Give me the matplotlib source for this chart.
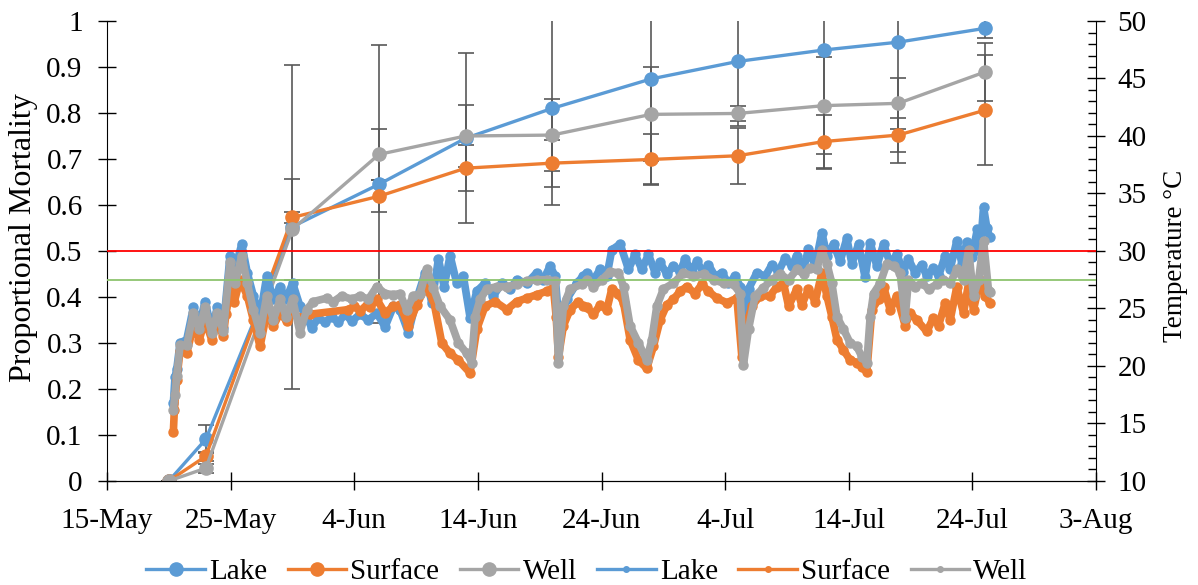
import matplotlib.pyplot as plt
from matplotlib.lines import Line2D
from matplotlib.ticker import MultipleLocator

plt.rcParams['font.family'] = ['Liberation Serif', 'DejaVu Serif']
plt.rcParams['font.size'] = 21

# x values are days after 15 May
tick_days = [0, 10, 20, 30, 40, 50, 60, 70, 80]
tick_labels = ['15-May', '25-May', '4-Jun', '14-Jun', '24-Jun', '4-Jul', '14-Jul', '24-Jul', '3-Aug']

# proportional mortality per sampling day
sample_day = [5, 8, 15, 22, 29, 36, 44, 51, 58, 64, 71]
lake_mort = [0, 0.091, 0.553, 0.645, 0.745, 0.810, 0.874, 0.912, 0.937, 0.954, 0.984]
surface_mort = [0, 0.054, 0.573, 0.619, 0.680, 0.691, 0.699, 0.707, 0.738, 0.752, 0.806]
well_mort = [0, 0.028, 0.547, 0.710, 0.750, 0.752, 0.797, 0.799, 0.816, 0.821, 0.889]
lake_err = [0, 0.031, 0.352, 0.302, 0.185, 0.211, 0.228, 0.140, 0.258, 0.263, 0.022]
surface_err = [0, 0.010, 0.012, 0.035, 0.050, 0.051, 0.056, 0.061, 0.058, 0.037, 0.120]
well_err = [0, 0.010, 0.109, 0.056, 0.067, 0.078, 0.102, 0.016, 0.105, 0.055, 0.063]

# water temperature logs
lake_day = [5.37, 5.50, 5.64, 5.91, 6.45, 6.99, 7.47, 7.93, 8.47, 8.93, 9.41, 9.95, 10.36, 10.90,
            11.35, 11.84, 12.38, 12.92, 13.46, 14.00, 14.48, 15.02, 15.61, 16.15, 16.56, 17.10,
            17.64, 18.18, 18.72, 19.26, 19.80, 20.47, 21.14, 21.82, 22.49, 23.17, 23.70, 24.38,
            25.05, 25.73, 26.27, 26.81, 27.27, 27.75, 28.29, 28.83, 29.37, 29.91, 30.58, 31.26,
            31.93, 32.61, 33.14, 33.95, 34.76, 35.30, 35.84, 36.25, 36.60, 37.19, 38.00, 38.50,
            38.81, 39.35, 39.89, 40.43, 40.83, 41.51, 42.18, 42.72, 43.26, 43.80, 44.34, 44.74,
            45.28, 45.82, 46.36, 46.76, 47.30, 47.71, 48.25, 48.65, 49.19, 49.73, 50.27, 50.81,
            51.22, 51.48, 51.89, 52.56, 53.24, 53.78, 54.31, 54.86, 55.39, 55.80, 56.34, 56.74,
            57.28, 57.82, 58.23, 58.77, 59.30, 59.84, 60.25, 60.79, 61.32, 61.73, 62.27, 62.81,
            63.35, 63.89, 64.42, 64.83, 65.37, 65.91, 66.31, 66.85, 67.26, 67.80, 68.20, 68.74,
            69.15, 69.55, 69.96, 70.40, 70.63, 70.90, 71.17, 71.40]
lake_temp = [16.8, 19.0, 19.7, 22.0, 22.3, 25.1, 23.5, 25.6, 23.2, 25.1, 23.3, 29.6, 28.4, 30.6,
             28.1, 26.1, 24.3, 27.8, 25.8, 26.9, 25.8, 27.2, 25.2, 24.3, 23.3, 24.2,
             23.8, 24.3, 23.8, 24.5, 23.9, 24.5, 24.0, 24.6, 23.4, 25.2, 24.9, 22.9,
             25.8, 28.1, 25.5, 29.3, 26.9, 29.6, 27.2, 27.8, 24.2, 26.5, 27.2, 26.1,
             27.2, 26.7, 27.5, 27.2, 28.1, 27.5, 28.7, 27.8, 23.2, 25.8, 27.2, 27.8,
             28.1, 27.5, 28.4, 27.8, 30.1, 30.6, 28.4, 29.7, 28.4, 29.7, 28.1, 29.0,
             28.0, 28.7, 28.2, 29.3, 28.2, 29.1, 28.1, 28.8, 27.8, 28.1, 27.2, 27.8,
             26.9, 22.0, 26.7, 28.1, 27.8, 28.8, 28.2, 29.4, 28.7, 29.6, 28.4, 30.2,
             28.7, 31.6, 29.6, 30.6, 29.1, 31.1, 28.9, 30.6, 27.7, 30.7, 28.7, 30.6,
             28.9, 29.7, 28.2, 29.3, 28.1, 28.8, 27.8, 28.5, 27.8, 29.6, 28.4, 30.9,
             28.9, 30.8, 29.5, 31.9, 30.0, 33.8, 32.0, 31.2]

surface_day = [5.37, 5.45, 5.64, 5.91, 6.45, 6.99, 7.47, 7.93, 8.47, 8.93, 9.41, 9.62, 9.95, 10.30,
               10.76, 11.35, 11.84, 12.38, 12.92, 13.46, 14.00, 14.54, 15.08, 15.61, 16.42, 19.50,
               20.00, 20.50, 21.10, 21.28, 21.82, 22.49, 23.17, 23.70, 24.38, 25.05, 25.73, 26.40,
               27.08, 27.75, 28.42, 29.37, 29.91, 30.58, 31.39, 32.34, 33.14, 33.95, 34.76, 35.57,
               36.11, 36.33, 36.52, 36.92, 37.46, 38.13, 38.50, 38.81, 39.35, 39.89, 40.43, 40.83,
               41.37, 41.78, 42.31, 42.99, 43.66, 44.20, 44.74, 45.28, 45.82, 46.36, 46.90, 47.57,
               48.11, 48.65, 49.33, 50.14, 50.95, 51.35, 51.62, 52.16, 52.83, 53.64, 54.18, 54.72,
               55.13, 55.80, 56.20, 56.74, 57.28, 57.82, 58.23, 58.63, 59.04, 59.57, 60.11, 60.65,
               61.06, 61.46, 61.87, 62.41, 62.81, 63.35, 63.89, 64.56, 64.96, 65.50, 66.31, 66.85,
               67.26, 67.80, 68.20, 68.74, 69.28, 69.69, 70.09, 70.63, 71.04, 71.40]
surface_temp = [14.3, 16.2, 18.8, 21.3, 21.1, 23.5, 22.3, 24.0, 22.3, 23.8, 22.6, 24.5, 26.6, 25.6,
                27.5, 26.1, 24.0, 21.7, 24.6, 23.5, 24.6, 23.9, 24.6, 24.2, 24.5, 24.9,
                25.2, 24.8, 25.4, 25.1, 25.8, 24.6, 25.2, 25.3, 23.5, 25.3, 26.8, 25.8,
                22.0, 21.1, 20.5, 19.4, 23.2, 25.2, 25.6, 24.9, 25.6, 25.9, 26.2, 26.5,
                26.8, 24.3, 20.8, 23.5, 24.9, 25.6, 25.2, 25.1, 24.5, 25.3, 24.9, 26.7,
                26.3, 25.5, 22.3, 20.5, 19.8, 21.7, 24.0, 25.3, 25.8, 26.5, 26.9, 26.3,
                27.1, 26.5, 25.9, 25.5, 25.9, 20.8, 23.2, 25.2, 26.1, 26.1, 26.9, 27.2,
                25.2, 26.7, 25.3, 26.7, 25.6, 28.1, 26.1, 24.3, 22.3, 21.4, 20.5, 20.3,
                19.9, 19.5, 24.9, 25.8, 26.9, 24.9, 26.1, 23.5, 24.6, 24.0, 23.0, 24.2,
                23.5, 25.5, 24.0, 26.9, 24.6, 27.2, 24.9, 27.5, 26.1, 25.5]

well_day = [5.37, 5.50, 5.64, 5.91, 6.45, 6.99, 7.47, 7.93, 8.47, 8.93, 9.41, 9.95, 10.36, 10.90,
            11.35, 11.84, 12.38, 12.92, 13.46, 14.00, 14.48, 15.02, 15.61, 16.15, 16.69, 17.77,
            18.31, 18.99, 19.80, 20.47, 21.14, 21.82, 22.49, 23.17, 23.70, 24.24, 24.78, 25.32,
            25.86, 26.40, 26.94, 27.75, 28.42, 29.10, 29.50, 29.77, 30.18, 30.72, 31.53, 32.34,
            33.14, 33.95, 34.76, 35.57, 36.25, 36.52, 36.92, 37.46, 38.40, 38.81, 39.35, 40.02,
            40.70, 41.37, 41.78, 42.31, 42.99, 43.66, 44.07, 44.47, 45.01, 45.82, 46.63, 47.44,
            48.25, 49.06, 49.87, 50.68, 51.22, 51.48, 51.89, 52.43, 53.10, 53.78, 54.45, 55.13,
            55.80, 56.34, 56.88, 57.42, 57.82, 58.23, 58.63, 59.04, 59.57, 60.11, 60.65, 61.06,
            61.46, 61.73, 62.00, 62.54, 63.08, 63.62, 64.15, 64.56, 64.83, 65.37, 65.91, 66.45,
            67.12, 67.66, 68.20, 68.74, 69.28, 69.69, 70.09, 70.50, 70.90, 71.31, 71.40]
well_temp = [16.2, 17.5, 19.1, 21.8, 21.8, 24.6, 23.2, 25.1, 22.9, 24.6, 23.0, 29.0, 27.2, 29.6,
             27.2, 24.9, 22.9, 26.1, 24.0, 25.8, 24.3, 25.8, 22.9, 24.9, 25.6, 25.9,
             25.6, 26.1, 25.8, 26.1, 25.8, 26.9, 26.3, 26.2, 26.3, 24.9, 26.1, 26.3,
             28.4, 26.8, 25.2, 24.0, 22.0, 21.1, 20.3, 24.3, 25.8, 26.7, 26.9, 26.9,
             27.1, 27.4, 27.5, 27.5, 27.4, 20.3, 25.2, 26.7, 27.1, 27.5, 26.9, 27.5,
             28.2, 28.1, 26.9, 23.5, 22.0, 20.5, 22.3, 25.2, 26.7, 27.2, 28.1, 27.8,
             28.0, 27.5, 27.2, 27.1, 26.3, 20.1, 23.2, 26.1, 26.8, 27.5, 28.0, 27.5,
             28.4, 28.0, 28.5, 28.4, 30.1, 28.9, 27.2, 24.3, 23.2, 22.0, 21.7, 20.8,
             20.3, 24.3, 26.3, 27.2, 28.9, 28.7, 28.1, 24.2, 27.5, 26.9, 27.2, 26.7,
             27.1, 27.5, 27.2, 28.4, 27.5, 30.1, 26.1, 27.5, 30.9, 26.5, 26.4]

# temperature thresholds
upper_limit = 30.0
lower_limit = 27.5

blue = '#5B9BD5'
orange = '#ED7D31'
gray = '#A5A5A5'
err_col = '#595959'

fig, ax = plt.subplots(figsize=(11.98, 5.85), dpi=100)
fig.subplots_adjust(left=0.0893, right=0.9149, bottom=0.1778, top=0.9641)

for vals, errs in [(lake_mort, lake_err), (surface_mort, surface_err), (well_mort, well_err)]:
    ax.errorbar(sample_day, vals, yerr=errs, fmt='none', ecolor=err_col,
                elinewidth=1.2, capsize=6, capthick=1.2, zorder=2)
for vals, col in [(lake_mort, blue), (surface_mort, orange), (well_mort, gray)]:
    ax.plot(sample_day, vals, '-o', color=col, lw=2.4, ms=9.5, zorder=3)

ax.set_xlim(0, 80)
ax.set_ylim(0, 1)
ax.set_xticks(tick_days)
ax.set_xticklabels(tick_labels)
ax.set_yticks([i / 10 for i in range(11)])
ax.set_yticklabels(['0', '0.1', '0.2', '0.3', '0.4', '0.5', '0.6', '0.7', '0.8', '0.9', '1'])
ax.tick_params(direction='inout', length=13, width=1)
ax.tick_params(axis='x', pad=13)
ax.tick_params(axis='y', pad=11)
ax.set_ylabel('Proportional Mortality', fontsize=23)
ax.yaxis.label.set_va('center')
ax.yaxis.set_label_coords(-0.0849, 0.53)
ax.spines['top'].set_visible(False)
ax.spines['right'].set_visible(False)

ax2 = ax.twinx()
for d, t, col in [(lake_day, lake_temp, blue), (surface_day, surface_temp, orange), (well_day, well_temp, gray)]:
    ax2.plot(d, t, '-o', color=col, lw=5.5, ms=6.5, zorder=3)
ax2.axhline(upper_limit, color='#FF0000', lw=1.3, zorder=5)
ax2.axhline(lower_limit, color='#8DC46E', lw=1.3, zorder=5)
ax2.set_ylim(10, 50)
ax2.yaxis.set_major_locator(MultipleLocator(5))
ax2.yaxis.set_minor_locator(MultipleLocator(1))
ax2.tick_params(axis='y', which='major', direction='inout', length=13, width=1, pad=9)
ax2.tick_params(axis='y', which='minor', direction='in', length=6, width=1)
ax2.set_ylabel('Temperature °C', fontsize=19.5)
ax2.yaxis.label.set_va('center')
ax2.yaxis.set_label_coords(1.0807, 0.49)
ax2.spines['top'].set_visible(False)
ax2.spines['left'].set_visible(False)

handles = [
    Line2D([], [], color=blue, lw=2.4, marker='o', ms=9.5),
    Line2D([], [], color=orange, lw=2.4, marker='o', ms=9.5),
    Line2D([], [], color=gray, lw=2.4, marker='o', ms=9.5),
    Line2D([], [], color=blue, lw=2.4, marker='o', ms=4),
    Line2D([], [], color=orange, lw=2.4, marker='o', ms=4),
    Line2D([], [], color=gray, lw=2.4, marker='o', ms=4),
]
labels = ['Lake', 'Surface', 'Well', 'Lake', 'Surface', 'Well']
fig.legend(handles, labels, loc='lower center', bbox_to_anchor=(0.49, -0.045), ncol=6,
           frameon=False, handlelength=2.0, handletextpad=0.15, columnspacing=0.7)

fig.savefig('out.png', dpi=100)
